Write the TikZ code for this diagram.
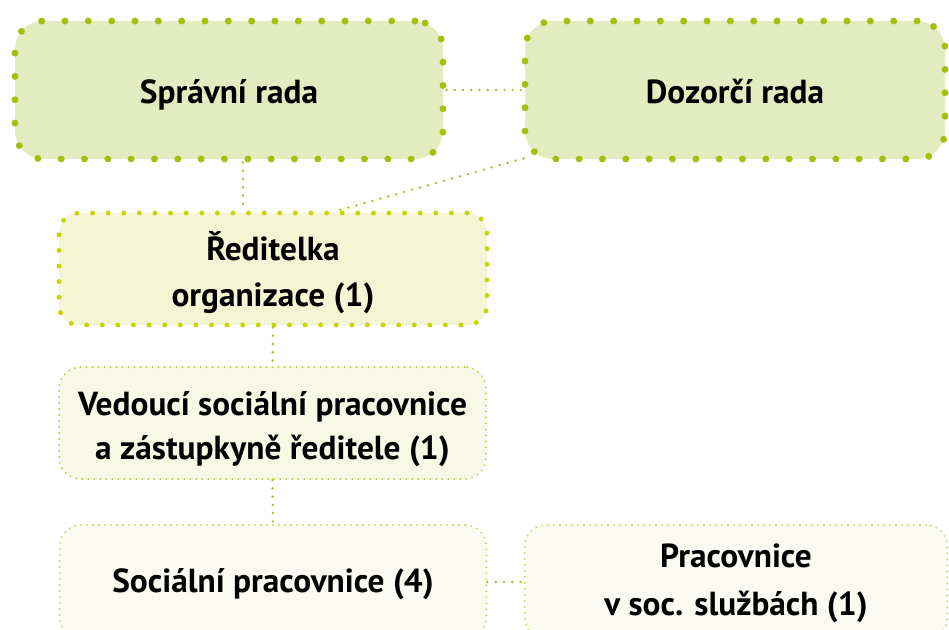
\documentclass[tikz,border=0pt]{standalone}
\usepackage{fontspec}
\setmainfont{PT Sans}
\usepackage{xcolor}
\definecolor{cBoardFill}{HTML}{E2ECC0}
\definecolor{cBoardDot}{HTML}{A6BF0C}
\definecolor{cHeadFill}{HTML}{F4F5D4}
\definecolor{cHeadDot}{HTML}{C6D600}
\definecolor{cStaffFill}{HTML}{F8F8E6}
\definecolor{cStaffDot}{HTML}{B8D048}
\definecolor{cTeamFill}{HTML}{FBFBF1}
\definecolor{cTeamDot}{HTML}{C4D970}
\definecolor{cLink}{HTML}{A6C020}
\newcommand{\boxtext}[2][-9pt]{\raisebox{#1}[0pt][0pt]{\begin{tabular}{@{}c@{}}#2\end{tabular}}}

\begin{document}
\begin{tikzpicture}[x=0.75pt,y=-0.75pt,
    label/.style={font=\fontsize{25}{35}\selectfont\bfseries, inner sep=0pt},
    board/.style={label, rectangle, rounded corners=21pt, fill=cBoardFill, draw=cBoardDot,
        line width=5.2pt, line cap=round, dash pattern=on 0pt off 17.5pt,
        minimum height=103.5pt},
    head/.style={label, rectangle, rounded corners=15pt, fill=cHeadFill, draw=cHeadDot,
        line width=3.7pt, line cap=round, dash pattern=on 0pt off 11.7pt,
        minimum width=321pt, minimum height=84pt},
    staff/.style={label, rectangle, rounded corners=16pt, fill=cStaffFill, draw=cStaffDot,
        line width=1.6pt, line cap=round, dash pattern=on 0pt off 4.5pt,
        minimum width=320pt, minimum height=84pt},
    team/.style={staff, fill=cTeamFill, draw=cTeamDot, minimum height=85.5pt},
    link/.style={draw=cLink, line width=2pt, line cap=round, dash pattern=on 0pt off 6.2pt}]
    \useasboundingbox (0,0) rectangle (949,630);
    \clip (0,0) rectangle (949,630);

    % boards
    \node[board, minimum width=321pt] (spravni) at (229,90) {\boxtext{Správní rada}};
    \node[board, minimum width=315pt] (dozorci) at (735,90) {\boxtext{Dozorčí rada}};

    % management
    \node[head] (reditelka) at (273,269) {\boxtext[-10pt]{Ředitelka\\organizace (1)}};
    \node[staff, font=\fontsize{25}{33}\selectfont\bfseries] (vedouci) at (272.5,423) {\boxtext[-10.5pt]{Vedoucí sociální pracovnice\\a zástupkyně ředitele (1)}};

    % staff
    \node[team] (socialni) at (273,582) {\boxtext[-6.75pt]{Sociální pracovnice (4)}};
    \node[team, minimum width=317pt, font=\fontsize{25}{36}\selectfont\bfseries] (pracovnice) at (736,582) {\boxtext[-5.8pt]{Pracovnice\\v soc. službách (1)}};

    % links
    \draw[link] (spravni.east) -- (dozorci.west);
    \draw[link] ([xshift=10.5pt]spravni.south) -- ([xshift=-22.5pt]reditelka.north);
    \draw[link] ([shift={(2,-4)}]dozorci.south west) -- ([xshift=48.75pt]reditelka.north);
    \draw[link] (reditelka.south) -- (vedouci.north);
    \draw[link] (vedouci.south) -- (socialni.north);
    \draw[link] (socialni.east) -- (pracovnice.west);
\end{tikzpicture}
\end{document}
